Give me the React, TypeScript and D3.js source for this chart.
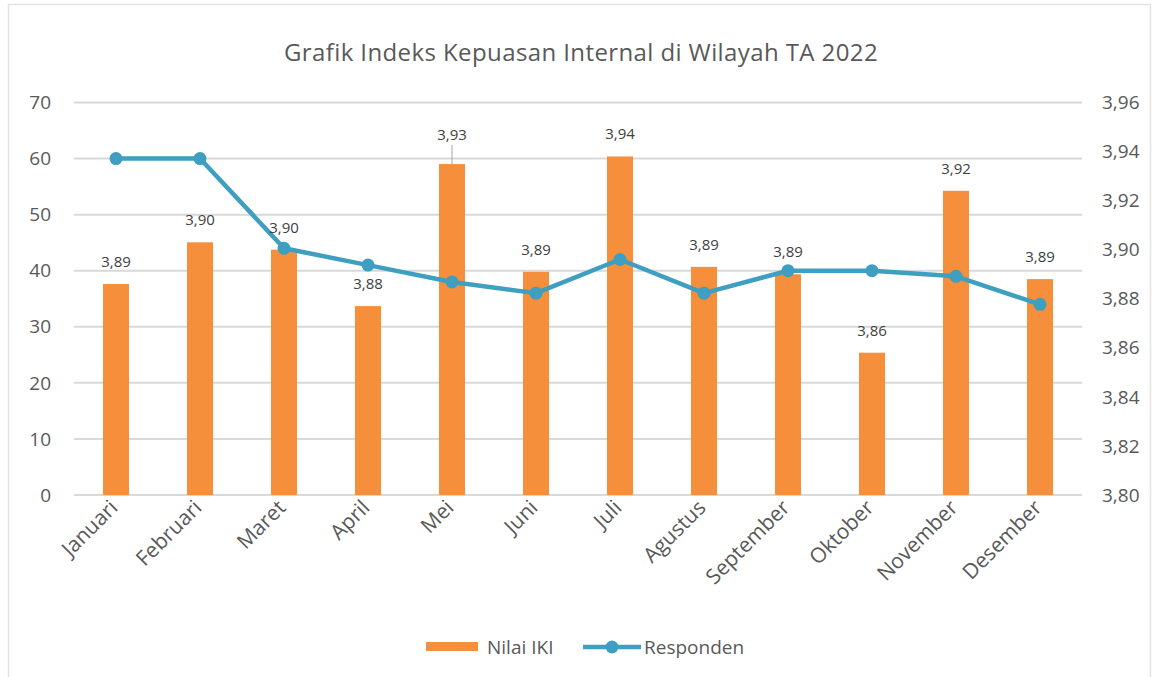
import { useEffect, useRef } from "react";
import * as d3 from "d3";

const months = [
  "Januari", "Februari", "Maret", "April", "Mei", "Juni",
  "Juli", "Agustus", "September", "Oktober", "November", "Desember",
];
const nilaiIKI = [3.886, 3.903, 3.9, 3.877, 3.9349, 3.891, 3.938, 3.893, 3.89, 3.858, 3.924, 3.888];
const responden = [60, 60, 44, 41, 38, 36, 42, 36, 40, 40, 39, 34];
const leftTicks = [0, 10, 20, 30, 40, 50, 60, 70];
const rightTicks = [3.8, 3.82, 3.84, 3.86, 3.88, 3.9, 3.92, 3.94, 3.96];
const leaderMonths = ["Mei"];

const W = 1157, H = 677;
const FONT = "'Open Sans', sans-serif";
const GREY = "#595959";
const ORANGE = "#F58F3C";
const BLUE = "#3F9FC1";

const fmt = (v: number) => v.toFixed(2).replace(".", ",");

export default function App() {
  const ref = useRef<SVGSVGElement>(null);

  useEffect(() => {
    document.body.style.margin = "0";
    const svg = d3.select(ref.current);
    svg.selectAll("*").remove();

    const m = { left: 74, right: 1082, top: 102.5, bottom: 495 };

    const x = d3.scaleBand().domain(months).range([m.left, m.right]).padding(0);
    const yL = d3.scaleLinear().domain([0, 70]).range([m.bottom, m.top]);
    const yR = d3.scaleLinear().domain([3.8, 3.96]).range([m.bottom, m.top]);
    const barW = x.bandwidth() * 0.31;
    const cx = (d: string) => (x(d) as number) + x.bandwidth() / 2;

    svg.append("rect")
      .attr("x", 8.5).attr("y", 4.5).attr("width", 1142).attr("height", 680)
      .attr("fill", "#fff").attr("stroke", "#e3e3e3").attr("stroke-width", 1.5);

    svg.append("text")
      .attr("x", 581).attr("y", 61).attr("text-anchor", "middle")
      .attr("font-family", FONT).attr("font-size", 24).attr("letter-spacing", 0.4)
      .attr("fill", GREY)
      .text("Grafik Indeks Kepuasan Internal di Wilayah TA 2022");

    // gridlines
    svg.append("g").selectAll("line").data(leftTicks).join("line")
      .attr("x1", m.left).attr("x2", m.right)
      .attr("y1", (d) => yL(d)).attr("y2", (d) => yL(d))
      .attr("stroke", "#d9d9d9").attr("stroke-width", 2);

    // left axis
    svg.append("g").selectAll("text").data(leftTicks).join("text")
      .attr("x", 51).attr("y", (d) => yL(d)).attr("dy", "0.35em")
      .attr("text-anchor", "end").attr("font-family", FONT).attr("font-size", 19)
      .attr("fill", GREY).text((d) => String(d));

    // right axis
    svg.append("g").selectAll("text").data(rightTicks).join("text")
      .attr("x", 1102).attr("y", (d) => yR(d)).attr("dy", "0.35em")
      .attr("text-anchor", "start").attr("font-family", FONT).attr("font-size", 19)
      .attr("fill", GREY).text((d) => fmt(d));

    // month labels
    svg.append("g").selectAll("text").data(months).join("text")
      .attr("transform", (d) => `translate(${cx(d) + 3},${m.bottom + 14}) rotate(-45)`)
      .attr("text-anchor", "end").attr("font-family", FONT).attr("font-size", 21)
      .attr("fill", GREY).text((d) => d);

    // bars
    svg.append("g").selectAll("rect").data(months).join("rect")
      .attr("x", (d) => cx(d) - barW / 2)
      .attr("y", (d, i) => yR(nilaiIKI[i]))
      .attr("width", barW)
      .attr("height", (d, i) => m.bottom - yR(nilaiIKI[i]))
      .attr("fill", ORANGE);

    // line
    const line = d3.line<number>()
      .x((d, i) => cx(months[i]))
      .y((d) => yL(d));
    svg.append("path").datum(responden)
      .attr("d", line).attr("fill", "none")
      .attr("stroke", BLUE).attr("stroke-width", 4.5).attr("stroke-linejoin", "round");
    svg.append("g").selectAll("circle").data(responden).join("circle")
      .attr("cx", (d, i) => cx(months[i])).attr("cy", (d) => yL(d))
      .attr("r", 6.5).attr("fill", BLUE);

    // data labels
    const lab = svg.append("g");
    months.forEach((mo, i) => {
      const top = yR(nilaiIKI[i]);
      const lead = leaderMonths.includes(mo);
      const by = lead ? top - 24 : top - 17;
      if (lead) {
        lab.append("line")
          .attr("x1", cx(mo)).attr("x2", cx(mo))
          .attr("y1", by + 5).attr("y2", top)
          .attr("stroke", "#a6a6a6").attr("stroke-width", 1);
      }
      lab.append("text")
        .attr("x", cx(mo)).attr("y", by).attr("text-anchor", "middle")
        .attr("font-family", FONT).attr("font-size", 15).attr("fill", "#404040")
        .text(fmt(nilaiIKI[i]));
    });

    // legend
    const lg = svg.append("g");
    lg.append("rect").attr("x", 426).attr("y", 642).attr("width", 52).attr("height", 9).attr("fill", ORANGE);
    lg.append("text").attr("x", 487).attr("y", 647).attr("dy", "0.35em")
      .attr("font-family", FONT).attr("font-size", 19).attr("fill", GREY).text("Nilai IKI");
    lg.append("line").attr("x1", 583).attr("x2", 641).attr("y1", 647).attr("y2", 647)
      .attr("stroke", BLUE).attr("stroke-width", 4.5);
    lg.append("circle").attr("cx", 612).attr("cy", 647).attr("r", 6.5).attr("fill", BLUE);
    lg.append("text").attr("x", 644).attr("y", 647).attr("dy", "0.35em")
      .attr("font-family", FONT).attr("font-size", 19).attr("fill", GREY).text("Responden");
  }, []);

  return <svg ref={ref} width={W} height={H} style={{ display: "block" }} />;
}
